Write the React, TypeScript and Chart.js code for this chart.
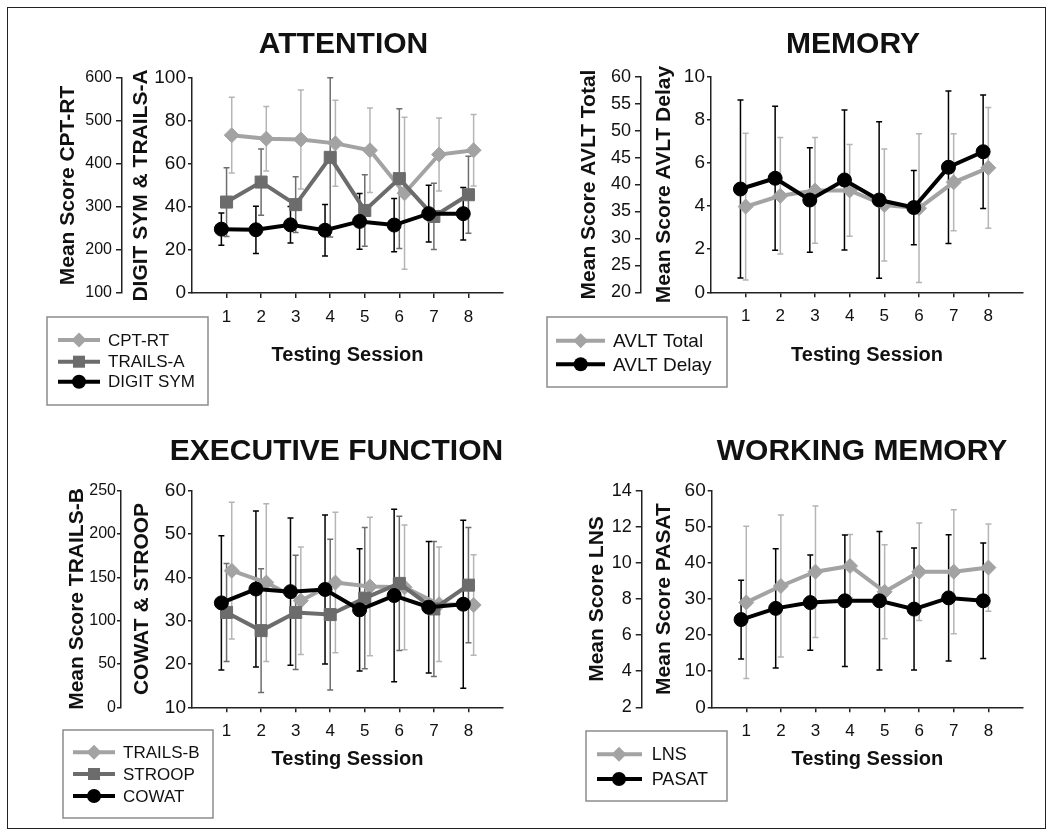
import React, { useEffect, useRef } from "react";
import { Chart, registerables } from "chart.js";

Chart.register(...registerables);

const FONT = "'Liberation Sans', Arial, Helvetica, sans-serif";

// ---------- DATA ----------
const sessions = [1, 2, 3, 4, 5, 6, 7, 8];

// ATTENTION
const cptRT = [467, 459, 457, 448, 432, 332, 422, 432];
const cptRTsd = [88, 75, 115, 100, 98, 177, 85, 83];
const trailsA = [42.3, 51.6, 41.1, 63.1, 38.4, 53.2, 35.6, 45.7];
const trailsAsd = [16, 15.4, 13, 37, 16.6, 32.5, 15.4, 17.9];
const digitSym = [29.7, 29.4, 31.7, 29.2, 33.3, 31.6, 36.9, 36.9];
const digitSymSd = [7.5, 11, 8.5, 12, 13, 12.4, 13.2, 12.2];

// MEMORY
const avltTotal = [35.9, 37.9, 38.9, 38.9, 36.2, 35.6, 40.4, 43.1];
const avltTotalSd = [13.6, 10.8, 9.8, 8.5, 10.4, 13.8, 9, 11.2];
const avltDelay = [4.79, 5.29, 4.28, 5.21, 4.28, 3.93, 5.8, 6.52];
const avltDelaySd = [4.13, 3.34, 2.42, 3.25, 3.63, 1.72, 3.54, 2.63];

// EXECUTIVE FUNCTION
const trailsB = [157.7, 144, 123, 144, 139.5, 138.5, 119, 118];
const trailsBsd = [79, 91, 62, 81, 80, 72, 66, 58];
const stroop = [31.9, 27.7, 31.9, 31.4, 35.2, 38.6, 32.7, 38.2];
const stroopSd = [11.3, 14.3, 13.2, 17.4, 16.3, 15.5, 15.6, 13.3];
const cowat = [34.1, 37.3, 36.7, 37.2, 32.5, 35.8, 33.1, 33.8];
const cowatSd = [15.5, 18, 17, 17.2, 14.1, 19.9, 15.2, 19.4];

// WORKING MEMORY
const lns = [7.81, 8.72, 9.51, 9.83, 8.4, 9.51, 9.51, 9.74];
const lnsSd = [4.22, 3.94, 3.64, 1.74, 2.6, 2.7, 3.43, 2.42];
const pasat = [24.3, 27.4, 29.0, 29.5, 29.5, 27.2, 30.3, 29.5];
const pasatSd = [10.9, 16.5, 13.2, 18.2, 19.2, 16.9, 17.5, 16];

// tick values
const cptTicks = [100, 200, 300, 400, 500, 600];
const digitTrailsTicks = [0, 20, 40, 60, 80, 100];
const avltTotalTicks = [20, 25, 30, 35, 40, 45, 50, 55, 60];
const avltDelayTicks = [0, 2, 4, 6, 8, 10];
const trailsBTicks = [0, 50, 100, 150, 200, 250];
const cowatStroopTicks = [10, 20, 30, 40, 50, 60];
const lnsTicks = [2, 4, 6, 8, 10, 12, 14];
const pasatTicks = [0, 10, 20, 30, 40, 50, 60];

// ---------- STYLES ----------
const STYLES: any = {
  light: { color: "#a3a3a3", err: "#b5b5b5", shape: "rectRot", radius: 7.5, order: 2 },
  dark: { color: "#6c6c6c", err: "#6e6e6e", shape: "rect", radius: 8.5, order: 1 },
  black: { color: "#000000", err: "#000000", shape: "circle", radius: 7, order: 0 },
};

const Y_TITLE_SIZE = 21;
const X_TITLE_SIZE = 20;

const PANELS: any[] = [
  {
    key: "attention",
    title: "ATTENTION",
    titleX: 343.5, titleY: 45,
    ox: 0, oy: 0, w: 527, h: 418,
    area: { left: 192, right: 503, top: 78, bottom: 293 },
    outerLine: 122, outerTitleX: 68.3, innerTitleX: 140.8, xTitleY: 355,
    outerTick: 16, outerTickPad: 4, outerTickLen: 6, innerTick: 19,
    outer: { title: "Mean Score CPT-RT", min: 100, max: 600, ticks: cptTicks },
    inner: { title: "DIGIT SYM & TRAILS-A", min: 0, max: 100, ticks: digitTrailsTicks },
    legend: { box: [47, 317, 208, 405], rows: [340, 361.7, 381.7], sample: [58, 100], markerX: 79, textX: 108, size: 17 },
    series: [
      { label: "CPT-RT", data: cptRT, sd: cptRTsd, axis: "yOut", style: "light", offset: 0.15 },
      { label: "TRAILS-A", data: trailsA, sd: trailsAsd, axis: "yIn", style: "dark", offset: 0 },
      { label: "DIGIT SYM", data: digitSym, sd: digitSymSd, axis: "yIn", style: "black", offset: -0.15 },
    ],
  },
  {
    key: "memory",
    title: "MEMORY",
    titleX: 853, titleY: 45,
    ox: 527, oy: 0, w: 527, h: 418,
    area: { left: 711, right: 1023, top: 76.7, bottom: 292.3 },
    outerLine: 641, outerTitleX: 589, innerTitleX: 664, xTitleY: 355,
    outerTick: 18, outerTickPad: 4, outerTickLen: 6, innerTick: 19,
    outer: { title: "Mean Score AVLT Total", min: 20, max: 60, ticks: avltTotalTicks },
    inner: { title: "Mean Score AVLT Delay", min: 0, max: 10, ticks: avltDelayTicks },
    legend: { box: [547, 317, 727, 387], rows: [340.7, 364.3], sample: [556, 605], markerX: 580.7, textX: 613, size: 19 },
    series: [
      { label: "AVLT Total", data: avltTotal, sd: avltTotalSd, axis: "yOut", style: "light", offset: 0 },
      { label: "AVLT Delay", data: avltDelay, sd: avltDelaySd, axis: "yIn", style: "black", offset: -0.15 },
    ],
  },
  {
    key: "exec",
    title: "EXECUTIVE FUNCTION",
    titleX: 336.5, titleY: 452,
    ox: 0, oy: 418, w: 527, h: 419,
    area: { left: 192, right: 503, top: 490.7, bottom: 707.3 },
    outerLine: 121, outerTitleX: 76.8, innerTitleX: 142.5, xTitleY: 759.3,
    outerTick: 16, outerTickPad: 1, outerTickLen: 4, innerTick: 19,
    outer: { title: "Mean Score TRAILS-B", min: 0, max: 250, ticks: trailsBTicks },
    inner: { title: "COWAT & STROOP", min: 10, max: 60, ticks: cowatStroopTicks },
    legend: { box: [63, 730, 213, 818], rows: [752.3, 774, 796], sample: [73, 115], markerX: 94, textX: 123, size: 17 },
    series: [
      { label: "TRAILS-B", data: trailsB, sd: trailsBsd, axis: "yOut", style: "light", offset: 0.15 },
      { label: "STROOP", data: stroop, sd: stroopSd, axis: "yIn", style: "dark", offset: 0 },
      { label: "COWAT", data: cowat, sd: cowatSd, axis: "yIn", style: "black", offset: -0.15 },
    ],
  },
  {
    key: "wm",
    title: "WORKING MEMORY",
    titleX: 862, titleY: 452,
    ox: 527, oy: 418, w: 527, h: 419,
    area: { left: 711.7, right: 1023, top: 490.7, bottom: 707.3 },
    outerLine: 641.7, outerTitleX: 596.8, innerTitleX: 664, xTitleY: 759.3,
    outerTick: 18, outerTickPad: 4, outerTickLen: 6, innerTick: 19,
    outer: { title: "Mean Score LNS", min: 2, max: 14, ticks: lnsTicks },
    inner: { title: "Mean Score PASAT", min: 0, max: 60, ticks: pasatTicks },
    legend: { box: [586, 731, 727, 801], rows: [754.3, 779], sample: [597, 642], markerX: 619, textX: 651.7, size: 18 },
    series: [
      { label: "LNS", data: lns, sd: lnsSd, axis: "yOut", style: "light", offset: 0 },
      { label: "PASAT", data: pasat, sd: pasatSd, axis: "yIn", style: "black", offset: -0.15 },
    ],
  },
];

// ---------- PLUGINS ----------
const errorBarPlugin = {
  id: "errorBars",
  beforeDatasetsDraw(chart: any) {
    const ctx = chart.ctx;
    chart.data.datasets.forEach((ds: any, i: number) => {
      const meta = chart.getDatasetMeta(i);
      const scale = chart.scales[ds.yAxisID];
      ctx.save();
      ctx.strokeStyle = ds.errColor;
      ctx.lineWidth = 1.5;
      meta.data.forEach((pt: any, j: number) => {
        const v = ds.data[j].y;
        const sd = ds.sd[j];
        const yTop = scale.getPixelForValue(v + sd);
        const yBot = scale.getPixelForValue(v - sd);
        ctx.beginPath();
        ctx.moveTo(pt.x, yTop);
        ctx.lineTo(pt.x, yBot);
        ctx.moveTo(pt.x - 3, yTop);
        ctx.lineTo(pt.x + 3, yTop);
        ctx.moveTo(pt.x - 3, yBot);
        ctx.lineTo(pt.x + 3, yBot);
        ctx.stroke();
      });
      ctx.restore();
    });
  },
};

function drawMarker(ctx: CanvasRenderingContext2D, shape: string, x: number, y: number, r: number, color: string) {
  ctx.fillStyle = color;
  ctx.beginPath();
  if (shape === "circle") {
    ctx.arc(x, y, r, 0, Math.PI * 2);
  } else if (shape === "rect") {
    const s = r * Math.SQRT1_2;
    ctx.rect(x - s, y - s, 2 * s, 2 * s);
  } else {
    ctx.moveTo(x, y - r);
    ctx.lineTo(x + r, y);
    ctx.lineTo(x, y + r);
    ctx.lineTo(x - r, y);
    ctx.closePath();
  }
  ctx.fill();
}

const decorPlugin = {
  id: "decor",
  afterDraw(chart: any, _args: any, opts: any) {
    const p = opts.panel;
    if (!p) return;
    const ctx = chart.ctx;
    const ox = p.ox, oy = p.oy;
    ctx.save();
    // panel title
    ctx.fillStyle = "#111";
    ctx.font = `bold 30px ${FONT}`;
    ctx.textAlign = "center";
    ctx.textBaseline = "middle";
    ctx.fillText(p.title, p.titleX - ox, p.titleY - oy);
    // legend
    const L = p.legend;
    ctx.strokeStyle = "#8c8c8c";
    ctx.lineWidth = 1.5;
    ctx.strokeRect(L.box[0] - ox, L.box[1] - oy, L.box[2] - L.box[0], L.box[3] - L.box[1]);
    ctx.font = `${L.size}px ${FONT}`;
    ctx.textAlign = "left";
    p.series.forEach((s: any, i: number) => {
      const st = STYLES[s.style];
      const y = L.rows[i] - oy;
      ctx.strokeStyle = st.color;
      ctx.lineWidth = 4;
      ctx.beginPath();
      ctx.moveTo(L.sample[0] - ox, y);
      ctx.lineTo(L.sample[1] - ox, y);
      ctx.stroke();
      drawMarker(ctx, st.shape, L.markerX - ox, y, st.radius, st.color);
      ctx.fillStyle = "#111";
      ctx.fillText(s.label, L.textX - ox, y + 1);
    });
    ctx.restore();
  },
};

// ---------- CONFIG ----------
function buildConfig(p: any) {
  const yHalf = (Y_TITLE_SIZE * 1.2) / 2;
  const xHalf = (X_TITLE_SIZE * 1.2) / 2;
  const outerLeft = p.outerTitleX - yHalf;
  const outerW = p.outerLine - outerLeft;
  const innerW = p.area.left - p.outerLine;
  const innerPad = p.innerTitleX - p.outerLine - yHalf;
  const xH = p.xTitleY + xHalf - p.area.bottom;
  const padding = {
    left: outerLeft - p.ox,
    top: p.area.top - p.oy,
    right: p.ox + p.w - p.area.right,
    bottom: p.oy + p.h - p.area.bottom - xH,
  };

  const datasets = p.series.map((s: any) => {
    const st = STYLES[s.style];
    return {
      label: s.label,
      data: sessions.map((x, j) => ({ x: x + s.offset, y: s.data[j] })),
      sd: s.sd,
      errColor: st.err,
      yAxisID: s.axis,
      borderColor: st.color,
      backgroundColor: st.color,
      borderWidth: 4,
      pointStyle: st.shape,
      pointRadius: st.radius,
      pointBackgroundColor: st.color,
      pointBorderColor: st.color,
      pointBorderWidth: 1,
      tension: 0,
      order: st.order,
      clip: false,
    };
  });

  const axisColor = "#222";
  const tickFont = (size: number) => ({ family: FONT, size });
  const yTitle = (text: string, padTop: number) => ({
    display: true,
    text,
    color: "#111",
    font: { family: FONT, size: Y_TITLE_SIZE, weight: "bold" },
    padding: { top: padTop, bottom: 0 },
  });

  return {
    type: "line",
    data: { datasets },
    plugins: [errorBarPlugin, decorPlugin],
    options: {
      animation: false,
      responsive: false,
      devicePixelRatio: 1,
      events: [],
      layout: { padding },
      plugins: {
        legend: { display: false },
        tooltip: { enabled: false },
        title: { display: false },
        decor: { panel: p },
      },
      scales: {
        x: {
          type: "linear",
          min: 0,
          max: 9,
          afterBuildTicks: (sc: any) => {
            sc.ticks = sessions.map((v) => ({ value: v }));
          },
          afterFit: (sc: any) => {
            sc.height = xH;
          },
          ticks: { font: tickFont(17), color: "#111", padding: 9, autoSkip: false, maxRotation: 0 },
          grid: { drawOnChartArea: false, drawTicks: true, tickLength: 5, color: axisColor, lineWidth: 1.5 },
          border: { display: true, color: axisColor, width: 1.5 },
          title: {
            display: true,
            text: "Testing Session",
            color: "#111",
            font: { family: FONT, size: X_TITLE_SIZE, weight: "bold" },
            padding: { top: 0, bottom: 0 },
          },
        },
        yOut: {
          type: "linear",
          position: "left",
          weight: 1,
          min: p.outer.min,
          max: p.outer.max,
          afterBuildTicks: (sc: any) => {
            sc.ticks = p.outer.ticks.map((v: number) => ({ value: v }));
          },
          afterFit: (sc: any) => {
            sc.width = outerW;
          },
          ticks: { font: tickFont(p.outerTick), color: "#111", padding: p.outerTickPad, autoSkip: false },
          grid: { drawOnChartArea: false, drawTicks: true, tickLength: p.outerTickLen, color: axisColor, lineWidth: 1.5 },
          border: { display: true, color: axisColor, width: 1.5 },
          title: yTitle(p.outer.title, 0),
        },
        yIn: {
          type: "linear",
          position: "left",
          weight: 0,
          min: p.inner.min,
          max: p.inner.max,
          afterBuildTicks: (sc: any) => {
            sc.ticks = p.inner.ticks.map((v: number) => ({ value: v }));
          },
          afterFit: (sc: any) => {
            sc.width = innerW;
          },
          ticks: { font: tickFont(p.innerTick), color: "#111", padding: 2, autoSkip: false },
          grid: { drawOnChartArea: false, drawTicks: true, tickLength: 4, color: axisColor, lineWidth: 1.5 },
          border: { display: true, color: axisColor, width: 1.5 },
          title: yTitle(p.inner.title, innerPad),
        },
      },
    },
  };
}

function Panel({ p }: { p: any }) {
  const ref = useRef<HTMLCanvasElement>(null);
  useEffect(() => {
    if (!ref.current) return;
    const chart = new Chart(ref.current, buildConfig(p) as any);
    return () => chart.destroy();
  }, [p]);
  return (
    <canvas
      ref={ref}
      width={p.w}
      height={p.h}
      style={{ position: "absolute", left: p.ox, top: p.oy, width: p.w, height: p.h }}
    />
  );
}

export default function App() {
  return (
    <div style={{ position: "absolute", left: 0, top: 0, width: 1054, height: 837, background: "#fff", overflow: "hidden" }}>
      <div
        style={{
          position: "absolute",
          left: 7,
          top: 7,
          width: 1039,
          height: 822,
          border: "1px solid #222",
          boxSizing: "border-box",
        }}
      />
      {PANELS.map((p) => (
        <Panel key={p.key} p={p} />
      ))}
    </div>
  );
}
